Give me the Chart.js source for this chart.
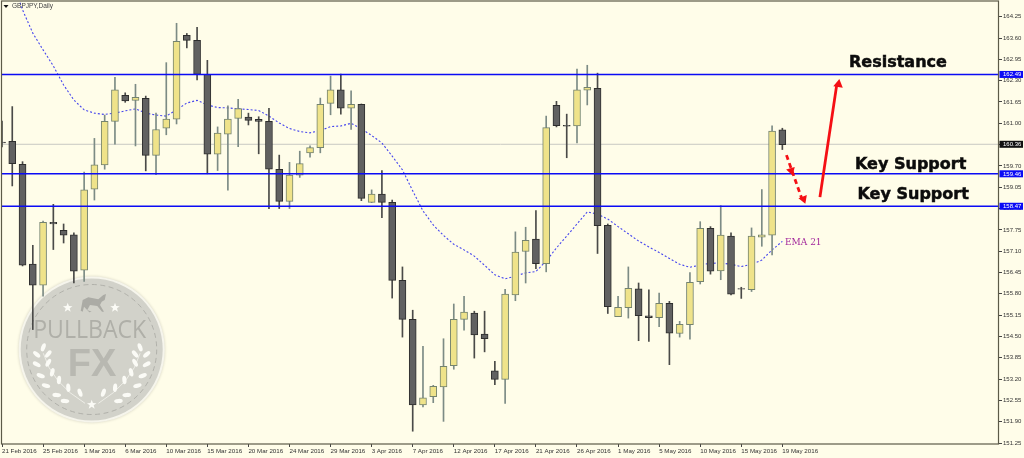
<!DOCTYPE html>
<html>
<head>
<meta charset="utf-8">
<title>GBPJPY,Daily</title>
<script src="https://cdn.jsdelivr.net/npm/chart.js@4/dist/chart.umd.min.js"></script>
<style>
    html, body { margin: 0; padding: 0; background: #FFFDE9; overflow: hidden; }
    canvas { display: block; }
</style>
</head>
<body>
<canvas id="chart" width="1024" height="458"></canvas>
<script>
const dateLabels = ["21 Feb 2016", "25 Feb 2016", "1 Mar 2016", "6 Mar 2016", "10 Mar 2016", "15 Mar 2016", "20 Mar 2016", "24 Mar 2016", "29 Mar 2016", "3 Apr 2016", "7 Apr 2016", "12 Apr 2016", "17 Apr 2016", "21 Apr 2016", "26 Apr 2016", "1 May 2016", "5 May 2016", "10 May 2016", "15 May 2016", "19 May 2016"];
const priceTicks = [151.25, 151.90, 152.55, 153.20, 153.85, 154.50, 155.15, 155.80, 156.45, 157.10, 157.75, 158.40, 159.05, 159.70, 160.35, 161.00, 161.65, 162.30, 162.95, 163.60, 164.25];

const opens = [160.43, 160.45, 159.75, 156.71, 156.06, 157.98, 157.74, 157.60, 156.52, 158.99,
    159.73, 161.06, 161.85, 161.70, 161.76, 160.02, 160.85, 161.13, 163.68, 163.53,
    162.49, 160.06, 160.67, 161.15, 161.19, 161.12, 161.06, 159.60, 158.62, 159.42,
    160.10, 160.26, 161.61, 162.02, 161.46, 161.58, 158.59, 158.84, 158.59, 156.21,
    155.02, 152.41, 152.66, 152.96, 153.61, 155.02, 155.21, 154.57, 153.45, 153.19,
    155.77, 157.09, 157.47, 156.72, 161.55, 160.94, 160.92, 162.01, 162.07, 157.89,
    155.10, 155.38, 155.95, 155.13, 155.07, 155.51, 154.59, 154.86, 156.17, 157.80,
    156.50, 157.56, 155.96, 155.93, 157.53, 157.59, 160.80];
const closes = [160.40, 159.77, 156.67, 156.06, 157.98, 157.93, 157.59, 156.49, 158.97, 159.73,
    161.06, 162.02, 161.68, 161.79, 160.02, 160.81, 161.13, 163.50, 163.53, 162.49,
    160.06, 160.70, 161.13, 161.45, 161.09, 161.06, 159.60, 158.62, 159.42, 159.77,
    160.26, 161.58, 162.02, 161.46, 161.58, 158.71, 158.84, 158.59, 156.21, 155.02,
    152.41, 152.63, 152.98, 153.59, 155.02, 155.24, 154.55, 154.43, 153.19, 155.79,
    157.07, 157.43, 156.72, 160.87, 160.93, 160.91, 162.02, 162.10, 157.88, 155.41,
    155.39, 155.97, 155.13, 155.07, 155.51, 154.60, 154.87, 156.15, 157.80, 156.49,
    157.59, 155.79, 155.94, 157.56, 157.60, 160.76, 160.35];
const highs = [161.07, 161.51, 159.83, 157.28, 158.02, 158.53, 157.93, 157.66, 159.51, 160.54,
    161.25, 162.40, 161.93, 162.19, 161.83, 161.31, 162.85, 164.05, 163.74, 163.93,
    162.92, 160.89, 161.53, 161.73, 161.31, 161.20, 161.46, 160.03, 159.81, 160.15,
    160.31, 161.77, 162.44, 162.50, 161.99, 161.59, 158.97, 159.56, 158.66, 156.62,
    155.30, 154.20, 153.01, 154.43, 155.49, 155.72, 155.27, 155.27, 153.74, 155.94,
    157.69, 157.83, 158.34, 161.22, 161.67, 161.28, 162.65, 162.77, 162.53, 157.93,
    155.72, 156.62, 156.13, 155.92, 155.82, 155.57, 154.96, 156.45, 158.00, 157.85,
    158.49, 157.66, 156.00, 157.81, 158.98, 160.92, 160.85];
const lows = [160.28, 159.09, 156.65, 154.71, 155.73, 157.15, 157.35, 156.13, 156.18, 158.66,
    159.60, 160.36, 161.64, 160.31, 159.55, 159.43, 160.65, 160.98, 163.30, 162.32,
    159.46, 159.56, 158.96, 160.29, 160.95, 160.07, 158.40, 158.40, 158.40, 159.35,
    159.97, 160.10, 161.26, 161.28, 160.81, 158.64, 158.58, 158.12, 155.67, 154.48,
    151.61, 152.35, 152.48, 151.91, 153.50, 154.69, 153.84, 154.03, 153.03, 152.46,
    155.59, 156.13, 156.57, 156.47, 160.89, 159.95, 160.40, 161.56, 157.03, 155.20,
    155.10, 155.06, 154.37, 154.35, 154.80, 153.64, 154.48, 154.42, 156.10, 156.40,
    156.23, 155.77, 155.66, 155.87, 157.25, 156.99, 160.20];

// EMA 21, starts at the second bar
const ema21 = [165.37, 164.46, 163.75, 163.24, 162.75, 162.17, 161.71, 161.41, 161.31,
    161.27, 161.31, 161.38, 161.44, 161.31, 161.25, 161.22, 161.41, 161.62, 161.70,
    161.56, 161.48, 161.47, 161.44, 161.42, 161.39, 161.22, 161.01, 160.84, 160.75,
    160.71, 160.78, 160.90, 160.92, 161.00, 160.83, 160.63, 160.40, 160.00, 159.58,
    158.94, 158.33, 157.90, 157.58, 157.31, 157.14, 156.95, 156.67, 156.38, 156.26,
    156.34, 156.44, 156.48, 156.80, 157.20, 157.56, 157.93, 158.30, 158.23, 158.08,
    157.85, 157.63, 157.41, 157.23, 157.06, 156.88, 156.70, 156.61, 156.68, 156.73,
    156.74, 156.70, 156.63, 156.70, 156.83, 157.14, 157.40];

const resistanceLevels = [162.49];
const supportLevels = [159.46, 158.47];
const lastPrice = 160.36;

const xMin = 0;
const xMax = 97.1;
const yMin = 151.22;
const yMax = 164.73;

const upColor = "#EFE38A";
const upEdge = "#74836F";
const downColor = "#616161";
const downEdge = "#2E2E2E";
const blue = "#0B0BF5";

function isUp(i) {
    return closes[i] >= opens[i];
}

function flatLine(price, color, width, order) {
    return {
        type: "line",
        data: [{ x: xMin, y: price }, { x: xMax, y: price }],
        borderColor: color,
        borderWidth: width,
        pointRadius: 0,
        order: order
    };
}

const wicks = {
    type: "bar",
    data: highs.map((h, i) => ({ x: i, y: [lows[i], h] })),
    backgroundColor: highs.map((h, i) => isUp(i) ? "#7C8B85" : "#4A4A48"),
    barThickness: 1,
    grouped: false,
    order: 2
};

const bodies = {
    type: "bar",
    data: opens.map((o, i) => ({ x: i, y: [o, closes[i]] })),
    backgroundColor: opens.map((o, i) => isUp(i) ? upColor : downColor),
    borderColor: opens.map((o, i) => isUp(i) ? upEdge : downEdge),
    borderWidth: 1,
    borderSkipped: false,
    barThickness: 7,
    grouped: false,
    order: 1
};

const emaLine = {
    type: "line",
    data: ema21.map((v, i) => ({ x: i + 1, y: v })),
    borderColor: "#4646EE",
    borderWidth: 1.1,
    borderDash: [2, 2],
    pointRadius: 0,
    order: 3
};

// coin stamp in the lower left corner: leaf x, y, tilt in degrees
const leaves = [[43.3, 347.3, 20], [36.7, 354.3, -50], [48.3, 354, 40], [36.7, 364.3, -60], [48.3, 362.7, 30], [40.7, 375.7, -70], [52.3, 372.3, 15], [46, 385.7, -75], [59, 380, 5], [56.7, 395, -85], [68.3, 387.7, -5], [65, 401, -85], [80, 392.7, -20]];
const horse = [[80.7, 310.7], [82.7, 300], [88.3, 297.3], [98.3, 299.3], [103.3, 295], [106, 294], [104.7, 300], [101.7, 301.7], [100, 305], [104, 311.7], [102, 311.7], [97.3, 306], [90, 305], [87.3, 310], [91.7, 311.7], [89.3, 312.3], [84, 306.7], [82.7, 311.7]];

function star(ctx, cx, cy, r) {
    ctx.beginPath();
    for (let k = 0; k < 10; k++) {
        const a = -Math.PI / 2 + k * Math.PI / 5;
        const rad = k % 2 ? r * 0.42 : r;
        ctx.lineTo(cx + rad * Math.cos(a), cy + rad * Math.sin(a));
    }
    ctx.closePath();
    ctx.fill();
}

function drawCoin(ctx) {
    const cx = 91.7, cy = 349.5;
    ctx.save();
    ctx.shadowColor = "rgba(0,0,0,0.18)";
    ctx.shadowBlur = 3;
    ctx.fillStyle = "#F6F5EC";
    ctx.beginPath();
    ctx.arc(cx, cy, 73, 0, Math.PI * 2);
    ctx.fill();
    ctx.restore();

    ctx.fillStyle = "#D2D2CA";
    ctx.beginPath();
    ctx.arc(cx, cy, 71, 0, Math.PI * 2);
    ctx.fill();

    ctx.save();
    ctx.strokeStyle = "#A8A8A2";
    ctx.lineWidth = 0.8;
    ctx.setLineDash([5, 3.5]);
    ctx.beginPath();
    ctx.arc(cx, cy, 65, 0, Math.PI * 2);
    ctx.stroke();
    ctx.restore();

    ctx.textAlign = "center";
    ctx.textBaseline = "alphabetic";
    ctx.fillStyle = "#AFAFA8";
    ctx.font = '25px "Open Sans"';
    ctx.fillText("PULLBACK", 89.7, 338.3, 113);
    ctx.fillStyle = "#B8B8B1";
    ctx.font = 'bold 38px "Liberation Sans"';
    ctx.fillText("FX", 92, 376);

    ctx.fillStyle = "#FBFBF6";
    star(ctx, 67.7, 307.7, 5);
    star(ctx, 115, 307.7, 5);
    star(ctx, 91.7, 404.7, 5);

    ctx.fillStyle = "#ABABA5";
    ctx.beginPath();
    horse.forEach(p => ctx.lineTo(p[0], p[1]));
    ctx.closePath();
    ctx.fill();

    // laurel, mirrored round the middle of the coin
    ctx.strokeStyle = "#F4F4EE";
    ctx.lineWidth = 0.8;
    [1, -1].forEach(side => {
        const fx = v => side === 1 ? v : 183.4 - v;
        ctx.beginPath();
        ctx.moveTo(fx(43.3), 353.3);
        ctx.quadraticCurveTo(fx(51.7), 383, fx(85), 403.3);
        ctx.stroke();
        ctx.fillStyle = "#FBFBF6";
        leaves.forEach(p => {
            ctx.save();
            ctx.translate(fx(p[0]), p[1]);
            ctx.rotate(side * p[2] * Math.PI / 180);
            ctx.beginPath();
            ctx.ellipse(0, 0, 2.1, 4.3, 0, 0, Math.PI * 2);
            ctx.fill();
            ctx.restore();
        });
    });
}

function drawArrowHead(ctx, tipX, tipY, fromX, fromY, len, half) {
    const a = Math.atan2(tipY - fromY, tipX - fromX);
    ctx.beginPath();
    ctx.moveTo(tipX, tipY);
    ctx.lineTo(tipX - len * Math.cos(a) - half * Math.sin(a), tipY - len * Math.sin(a) + half * Math.cos(a));
    ctx.lineTo(tipX - len * Math.cos(a) + half * Math.sin(a), tipY - len * Math.sin(a) - half * Math.cos(a));
    ctx.closePath();
    ctx.fill();
}

const stampPlugin = {
    id: "stamp",
    beforeDatasetsDraw(chart) {
        const ctx = chart.ctx;
        ctx.save();
        drawCoin(ctx);
        ctx.restore();
    },
    afterDraw(chart) {
        const ctx = chart.ctx;
        const x = chart.scales.x;
        const y = chart.scales.y;
        ctx.save();

        // frame
        ctx.strokeStyle = "#5C5A48";
        ctx.lineWidth = 1.2;
        ctx.strokeRect(1.5, 1, 997, 443);

        // title
        ctx.fillStyle = "#111";
        ctx.beginPath();
        ctx.moveTo(3.5, 5);
        ctx.lineTo(8.5, 5);
        ctx.lineTo(6, 8);
        ctx.closePath();
        ctx.fill();
        ctx.fillStyle = "#444";
        ctx.font = '6.5px "Liberation Sans"';
        ctx.textAlign = "left";
        ctx.textBaseline = "middle";
        ctx.fillText("GBPJPY,Daily", 12, 6.5);

        // price tags on the axis
        const tags = resistanceLevels.concat(supportLevels).map(v => [v, blue]);
        tags.push([lastPrice, "#111"]);
        ctx.font = '6px "Liberation Sans"';
        tags.forEach(t => {
            const py = y.getPixelForValue(t[0]);
            ctx.fillStyle = t[1];
            ctx.fillRect(999.5, py - 3.5, 23.5, 7);
            ctx.fillStyle = "#FFF";
            ctx.fillText(t[0].toFixed(2), 1003, py + 0.3);
        });

        // red arrows
        ctx.strokeStyle = "#F50F14";
        ctx.fillStyle = "#F50F14";
        ctx.lineWidth = 2.8;
        const ax = x.getPixelForValue(79.66), ay = y.getPixelForValue(158.75);
        const bx = x.getPixelForValue(81.3), by = y.getPixelForValue(162.18);
        ctx.beginPath();
        ctx.moveTo(ax, ay);
        ctx.lineTo(bx, by);
        ctx.stroke();
        drawArrowHead(ctx, x.getPixelForValue(81.55), y.getPixelForValue(162.35), ax, ay, 8, 4.8);

        const cx = x.getPixelForValue(76.4), cy = y.getPixelForValue(160.03);
        const dx = x.getPixelForValue(77.9), dy = y.getPixelForValue(158.7);
        ctx.save();
        ctx.setLineDash([5, 3.5]);
        ctx.beginPath();
        ctx.moveTo(cx, cy);
        ctx.lineTo(dx, dy);
        ctx.stroke();
        ctx.restore();
        drawArrowHead(ctx, x.getPixelForValue(78.24), y.getPixelForValue(158.55), cx, cy, 7.5, 4.5);
        drawArrowHead(ctx, x.getPixelForValue(77.0), y.getPixelForValue(159.41), cx, cy, 7.5, 4.5);

        // notes
        ctx.fillStyle = "#0C0C0C";
        ctx.strokeStyle = "#0C0C0C";
        ctx.lineWidth = 0.5;
        ctx.font = 'bold 16px "DejaVu Sans"';
        ctx.textAlign = "left";
        ctx.textBaseline = "middle";
        [["Resistance", 849, 62.5], ["Key Support", 855, 165], ["Key Support", 857.5, 195]].forEach(n => {
            ctx.fillText(n[0], n[1], n[2]);
            ctx.strokeText(n[0], n[1], n[2]);
        });

        ctx.fillStyle = "#A3289C";
        ctx.font = '9px "DejaVu Serif"';
        ctx.fillText("EMA 21", 785, 242.5);
        ctx.restore();
    }
};

new Chart(document.getElementById("chart").getContext("2d"), {
    type: "bar",
    data: {
        datasets: [
            flatLine(resistanceLevels[0], blue, 1.6, 0),
            flatLine(supportLevels[0], blue, 1.6, 0),
            flatLine(supportLevels[1], blue, 1.6, 0),
            bodies,
            wicks,
            emaLine,
            flatLine(lastPrice, "#C9C9C4", 1, 4)
        ]
    },
    options: {
        responsive: false,
        animation: false,
        layout: { padding: { left: 2, top: 1, right: 0, bottom: 0 } },
        plugins: {
            legend: { display: false },
            title: { display: false },
            tooltip: { enabled: false }
        },
        scales: {
            x: {
                type: "linear",
                position: "bottom",
                offset: false,
                min: xMin,
                max: xMax,
                afterBuildTicks: scale => {
                    scale.ticks = dateLabels.map((d, i) => ({ value: i * 4 }));
                },
                afterFit: scale => {
                    scale.height = 14;
                    scale.paddingLeft = 0;
                    scale.paddingRight = 0;
                },
                grid: {
                    offset: false,
                    drawOnChartArea: false,
                    drawTicks: true,
                    tickLength: 3,
                    tickColor: "#444"
                },
                border: { display: false },
                ticks: {
                    autoSkip: false,
                    maxRotation: 0,
                    align: "start",
                    padding: 1,
                    color: "#333",
                    font: { family: "Liberation Sans", size: 6.2 },
                    callback: value => dateLabels[value / 4] || ""
                }
            },
            y: {
                position: "right",
                min: yMin,
                max: yMax,
                afterBuildTicks: scale => {
                    scale.ticks = priceTicks.map(v => ({ value: v }));
                },
                afterFit: scale => {
                    scale.width = 25;
                    scale.paddingTop = 0;
                    scale.paddingBottom = 0;
                },
                grid: {
                    drawOnChartArea: false,
                    drawTicks: true,
                    tickLength: 3,
                    tickColor: "#444"
                },
                border: { display: false },
                ticks: {
                    autoSkip: false,
                    padding: 1,
                    color: "#333",
                    font: { family: "Liberation Sans", size: 6 },
                    callback: value => value.toFixed(2)
                }
            }
        }
    },
    plugins: [stampPlugin]
});
</script>
</body>
</html>
